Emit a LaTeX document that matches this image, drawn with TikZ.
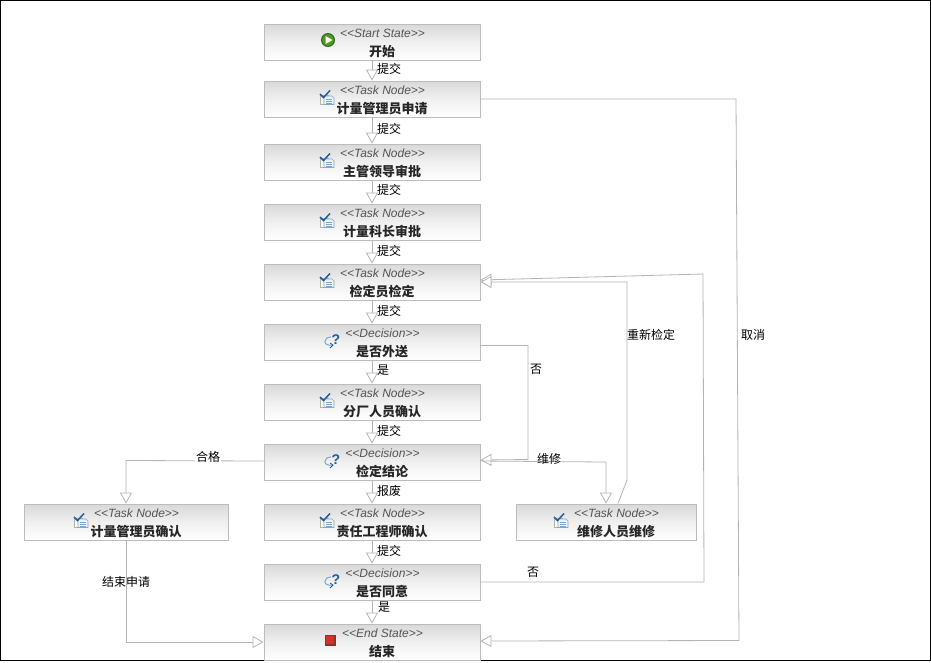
\documentclass[tikz,border=0pt]{standalone}
\usepackage{fontspec}
\usetikzlibrary{arrows.meta}
\setmainfont{Liberation Sans}
\newfontfamily\cjkfont{Noto Sans CJK SC}
\definecolor{edgegray}{HTML}{B4B4B4}
\definecolor{boxedge}{HTML}{BCBCBC}
\definecolor{stereogray}{HTML}{555555}
\definecolor{iconblue}{HTML}{1F5C99}
\definecolor{iconpale}{HTML}{7FA8C9}
\definecolor{icondoc}{HTML}{EAF3F8}
\definecolor{startgreen}{HTML}{4C9A2A}
\definecolor{startdark}{HTML}{2E6B1C}
\definecolor{endred}{HTML}{D9302C}
\definecolor{enddark}{HTML}{8A3030}
\tikzset{
  x=1pt,y=-1pt,
  wfbox/.style={draw=boxedge,line width=0.9pt,rectangle,inner sep=0pt,top color=black!15,bottom color=white,middle color=black!6},
  stereotxt/.style={font=\fontsize{12}{12}\selectfont\itshape,text=stereogray,inner sep=0pt},
  titletxt/.style={font=\fontsize{13}{13}\selectfont\cjkfont\bfseries,text=black!85,inner sep=0pt},
  edgelabel/.style={font=\fontsize{12}{12}\selectfont\cjkfont,text=black,inner sep=0pt},
  wfedge/.style={draw=edgegray,line width=0.8pt,-{Triangle[open,length=11pt,width=12pt,fill=white]}},
}
\newcommand{\iconStart}[2]{%
  \fill[startdark] (#1,#2) circle (7);
  \fill[startgreen] (#1,#2) circle (5.8);
  \fill[white!90!yellow] (#1-2.5,#2-4) -- (#1+4.5,#2) -- (#1-2.5,#2+4) -- cycle;}
\newcommand{\iconEnd}[2]{%
  \fill[enddark] (#1-5.5,#2-5.5) rectangle (#1+5.5,#2+5.5);
  \fill[endred] (#1-4,#2-4) rectangle (#1+4,#2+4);}
\newcommand{\iconTask}[2]{%
  \draw[black!30,fill=yellow!10,line width=0.6pt] (#1-7,#2-2) rectangle (#1+1,#2+7);
  \draw[iconpale,fill=icondoc,line width=0.6pt] (#1-3,#2-1) -- (#1+5,#2-1) -- (#1+7,#2+1) -- (#1+7,#2+7.5) -- (#1-3,#2+7.5) -- cycle;
  \draw[iconpale,line width=0.6pt] (#1-1,#2+2) -- (#1+5,#2+2) (#1-1,#2+4) -- (#1+5,#2+4) (#1-1,#2+6) -- (#1+5,#2+6);
  \draw[iconblue,line width=1.5pt] (#1-7,#2-3) -- (#1-3.5,#2+0.5) -- (#1+3,#2-6.5);}
\newcommand{\iconDecision}[2]{%
  \draw[iconpale,line width=1pt] (#1+1,#2+5) .. controls (#1-10,#2+7) and (#1-9,#2-3) .. (#1-1,#2-3);
  \draw[iconblue,line width=0.8pt] (#1-2,#2+8) -- (#1+1,#2+5) -- (#1-2,#2+3);
  \node[font=\fontsize{14}{14}\selectfont\bfseries,text=iconblue,inner sep=0pt] at (#1+4,#2+0) {?};}
% name, cx, cy, width, stereotype, title, icon macro, icon x offset
\newcommand{\wfnode}[8]{%
  \node[wfbox,minimum width=#4 pt,minimum height=36pt] (#1) at (#2,#3) {};
  \node[stereotxt] (#1s) at (#2+10.5,#3-9) {{<}{<}#5{>}{>}};
  \node[titletxt] (#1t) at (#2+10,#3+9.5) {#6};
  \csname icon#7\endcsname{#2+#8}{#3-2}}
\begin{document}
\begin{tikzpicture}
\useasboundingbox (0,0) rectangle (931,662);
\fill[white] (0,0) rectangle (931,662);
\draw[black,line width=1pt] (0.5,0.5) -- (930.5,0.5) -- (930.5,660.5) -- (0.5,660.5) -- cycle;
\wfnode{start}{372}{42}{216}{Start State}{开始}{Start}{-44}
\wfnode{apply}{372}{99}{216}{Task Node}{计量管理员申请}{Task}{-45}
\wfnode{lead}{372}{162}{216}{Task Node}{主管领导审批}{Task}{-45}
\wfnode{chief}{372}{222}{216}{Task Node}{计量科长审批}{Task}{-45}
\wfnode{check}{372}{282}{216}{Task Node}{检定员检定}{Task}{-45}
\wfnode{outq}{372}{342}{216}{Decision}{是否外送}{Decision}{-40}
\wfnode{branch}{372}{402}{216}{Task Node}{分厂人员确认}{Task}{-45}
\wfnode{result}{372}{462}{216}{Decision}{检定结论}{Decision}{-40}
\wfnode{engineer}{372}{522}{216}{Task Node}{责任工程师确认}{Task}{-45}
\wfnode{agree}{372}{582}{216}{Decision}{是否同意}{Decision}{-40}
\wfnode{finish}{372}{642}{216}{End State}{结束}{End}{-42}
\wfnode{confirm}{126}{522}{204}{Task Node}{计量管理员确认}{Task}{-45}
\wfnode{repair}{606}{522}{180}{Task Node}{维修人员维修}{Task}{-45}
\coordinate (cancelA) at (736,99);
\coordinate (cancelB) at (739,640.5);
\coordinate (backA) at (704,582);
\coordinate (backB) at (703,274);
\coordinate (redoA) at (627,480);
\coordinate (redoB) at (627,282);
\coordinate (noA) at (528,345.5);
\coordinate (noB) at (528,459.5);
\coordinate (fixA) at (606,462);
\coordinate (okA) at (126,460.5);
\coordinate (endA) at (126,642);
\draw[wfedge] (start.south) -- (apply.north);
\draw[wfedge] (apply.south) -- (lead.north);
\draw[wfedge] (lead.south) -- (chief.north);
\draw[wfedge] (chief.south) -- (check.north);
\draw[wfedge] (check.south) -- (outq.north);
\draw[wfedge] (outq.south) -- (branch.north);
\draw[wfedge] (branch.south) -- (result.north);
\draw[wfedge] (result.south) -- (engineer.north);
\draw[wfedge] (engineer.south) -- (agree.north);
\draw[wfedge] (agree.south) -- (finish.north);
\draw[wfedge] (apply.east) -- (cancelA) -- (cancelB) -- ([yshift=1pt]finish.east);
\draw[wfedge] (agree.east) -- (backA) -- (backB) -- ([yshift=2pt]check.east);
\draw[wfedge] (repair.north -| 618,0) -- (redoA) -- (redoB) -- (check.east);
\draw[wfedge] ([yshift=-3.5pt]outq.east) -- (noA) -- (noB) -- ([yshift=2pt]result.east);
\draw[wfedge] ([yshift=1pt]result.east) -- (fixA) -- (repair.north);
\draw[wfedge] ([yshift=1pt]result.west) -- (okA) -- (confirm.north);
\draw[wfedge] (confirm.south) -- (endA) -- (finish.west);
\node[edgelabel,anchor=west] (l1) at (377,69) {提交};
\node[edgelabel,anchor=west] (l2) at (377,129) {提交};
\node[edgelabel,anchor=west] (l3) at (377,190) {提交};
\node[edgelabel,anchor=west] (l4) at (377,251) {提交};
\node[edgelabel,anchor=west] (l5) at (377,311) {提交};
\node[edgelabel,anchor=west] (l6) at (377,370) {是};
\node[edgelabel,anchor=west] (l7) at (377,431) {提交};
\node[edgelabel,anchor=west] (l8) at (377,491) {报废};
\node[edgelabel,anchor=west] (l9) at (377,551) {提交};
\node[edgelabel,anchor=west] (l10) at (378,607.5) {是};
\node[edgelabel,fill=white,inner sep=1pt] (l11) at (208,457) {合格};
\node[edgelabel] (l12) at (126,582) {结束申请};
\node[edgelabel] (l13) at (536,369) {否};
\node[edgelabel] (l14) at (549,459) {维修};
\node[edgelabel] (l15) at (651,335) {重新检定};
\node[edgelabel] (l16) at (753,335) {取消};
\node[edgelabel] (l17) at (533,572) {否};
\end{tikzpicture}
\end{document}
